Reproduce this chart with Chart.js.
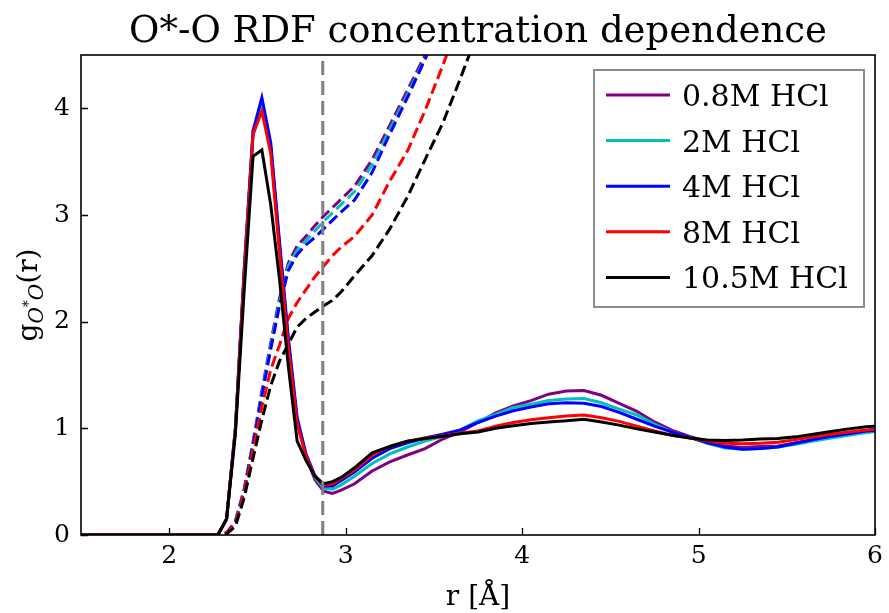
<!DOCTYPE html>
<html>
<head>
<meta charset="utf-8">
<script src="https://cdn.jsdelivr.net/npm/chart.js@4.4.1/dist/chart.umd.min.js"></script>
<style>
    html, body { margin: 0; padding: 0; background: #fff; }
    #wrap { width: 889px; height: 613px; }
</style>
</head>
<body>
<div id="wrap"><canvas id="grafRdf" width="889" height="613"></canvas></div>
<script>
// r em angstrom (grade comum a todas as curvas)
const rValues = [1.5,
    2.275, 2.325, 2.375, 2.425, 2.475, 2.525, 2.575, 2.625, 2.675, 2.725, 2.775, 2.825, 2.875, 2.925, 2.975,
    3.05, 3.15, 3.25, 3.35, 3.45, 3.55, 3.65, 3.75, 3.85, 3.95,
    4.05, 4.15, 4.25, 4.35, 4.45, 4.55, 4.65, 4.75, 4.85, 4.95,
    5.05, 5.15, 5.25, 5.35, 5.45, 5.55, 5.65, 5.75, 5.85, 5.95,
    6.0]

const rotulos = ['0.8M HCl', '2M HCl', '4M HCl', '8M HCl', '10.5M HCl']
const cores = ['#800080', '#00bfbf', '#0000ff', '#ff0000', '#000000']

// g(r) - linhas cheias
const g08 = [0,
    0, 0.15, 1.0, 2.45, 3.75, 4.02, 3.64, 2.7, 1.8, 1.06, 0.74, 0.52, 0.41, 0.39, 0.42,
    0.48, 0.60, 0.685, 0.75, 0.81, 0.90, 0.97, 1.055, 1.145, 1.21,
    1.26, 1.32, 1.35, 1.355, 1.31, 1.235, 1.16, 1.06, 0.98, 0.925,
    0.875, 0.835, 0.82, 0.83, 0.835, 0.865, 0.895, 0.925, 0.945, 0.965,
    0.97]
const g2 = [0,
    0, 0.15, 1.0, 2.48, 3.78, 4.05, 3.65, 2.72, 1.82, 1.07, 0.75, 0.54, 0.44, 0.43, 0.47,
    0.55, 0.67, 0.76, 0.825, 0.88, 0.925, 0.985, 1.07, 1.13, 1.195,
    1.225, 1.26, 1.275, 1.28, 1.24, 1.18, 1.125, 1.04, 0.965, 0.915,
    0.86, 0.815, 0.805, 0.81, 0.825, 0.85, 0.88, 0.91, 0.935, 0.96,
    0.975]
const g4 = [0,
    0, 0.15, 1.0, 2.5, 3.79, 4.1, 3.68, 2.75, 1.85, 1.1, 0.76, 0.56, 0.46, 0.46, 0.51,
    0.59, 0.72, 0.81, 0.865, 0.91, 0.945, 0.985, 1.055, 1.115, 1.165,
    1.20, 1.23, 1.24, 1.235, 1.205, 1.15, 1.085, 1.02, 0.965, 0.915,
    0.865, 0.825, 0.805, 0.81, 0.825, 0.86, 0.895, 0.925, 0.95, 0.975,
    0.98]
const g8 = [0,
    0, 0.15, 0.98, 2.45, 3.76, 3.97, 3.58, 2.65, 1.76, 1.04, 0.74, 0.55, 0.47, 0.48, 0.53,
    0.61, 0.75, 0.83, 0.88, 0.91, 0.93, 0.955, 0.975, 1.02, 1.055,
    1.08, 1.10, 1.115, 1.125, 1.10, 1.065, 1.02, 0.975, 0.935, 0.91,
    0.88, 0.86, 0.855, 0.86, 0.87, 0.895, 0.92, 0.945, 0.965, 0.985,
    0.995]
const g105 = [0,
    0, 0.15, 0.95, 2.3, 3.55, 3.61, 3.1, 2.4, 1.58, 0.88, 0.7, 0.55, 0.48, 0.5, 0.54,
    0.63, 0.77, 0.83, 0.88, 0.905, 0.925, 0.95, 0.965, 1.0, 1.025,
    1.045, 1.06, 1.07, 1.085, 1.06, 1.03, 0.995, 0.965, 0.935, 0.91,
    0.89, 0.885, 0.89, 0.90, 0.905, 0.92, 0.945, 0.97, 0.995, 1.015,
    1.02]

// curvas tracejadas (saem pelo topo do grafico)
const n08 = [0,
    0, 0.02, 0.13, 0.43, 0.87, 1.35, 1.8, 2.22, 2.55, 2.71, 2.8, 2.9, 2.99, 3.07, 3.15,
    3.27, 3.52, 3.84, 4.17, 4.5, 4.9]
const n2 = [0,
    0, 0.02, 0.13, 0.43, 0.86, 1.32, 1.77, 2.18, 2.52, 2.67, 2.76, 2.85, 2.94, 3.02, 3.1,
    3.22, 3.47, 3.8, 4.13, 4.47, 4.88]
const n4 = [0,
    0, 0.02, 0.12, 0.42, 0.85, 1.3, 1.74, 2.15, 2.48, 2.63, 2.72, 2.79, 2.87, 2.95, 3.03,
    3.14, 3.4, 3.76, 4.1, 4.46, 4.85]
const n8 = [0,
    0, 0.02, 0.11, 0.4, 0.8, 1.2, 1.55, 1.78, 2.03, 2.18, 2.3, 2.42, 2.52, 2.62, 2.7,
    2.8, 3.0, 3.32, 3.6, 3.98, 4.4, 4.85]
const n105 = [0,
    0, 0.01, 0.08, 0.35, 0.72, 1.08, 1.4, 1.63, 1.79, 1.95, 2.03, 2.09, 2.15, 2.2, 2.28,
    2.43, 2.62, 2.87, 3.17, 3.52, 3.86, 4.28, 4.72]

const rCorte = 2.87 // linha vertical cinza
const xTicks = [2, 3, 4, 5, 6]
const yTicks = [0, 1, 2, 3, 4]
const titulo = 'O*-O RDF concentration dependence'
const fonte = "'DejaVu Serif', serif"

const solidos = [g08, g2, g4, g8, g105]
const tracejados = [n08, n2, n4, n8, n105]

function pontos(arr) {
    return arr.map((y, i) => ({ x: rValues[i], y: y }))
}

let datasets = []
solidos.forEach((arr, i) => {
    datasets.push({
        label: rotulos[i],
        data: pontos(arr),
        borderColor: cores[i],
        borderWidth: 3,
        pointRadius: 0,
        tension: 0,
        order: 4 - i
    })
})
tracejados.forEach((arr, i) => {
    datasets.push({
        label: rotulos[i] + ' (int)',
        data: pontos(arr),
        borderColor: cores[i],
        borderWidth: 3,
        borderDash: [11, 5],
        pointRadius: 0,
        tension: 0,
        order: 9 - i
    })
})
datasets.push({
    label: 'corte',
    data: [{ x: rCorte, y: 0 }, { x: rCorte, y: 4.5 }],
    borderColor: '#808080',
    borderWidth: 3,
    borderDash: [14, 6],
    pointRadius: 0,
    order: -1
})

const decoracao = {
    id: 'decoracao',
    afterDraw(chart) {
        const ctx = chart.ctx
        const a = chart.chartArea
        const sx = chart.scales.x
        const sy = chart.scales.y
        ctx.save()

        // ticks para dentro
        ctx.strokeStyle = '#000'
        ctx.lineWidth = 1.3
        ctx.beginPath()
        xTicks.forEach(v => {
            const px = Math.round(sx.getPixelForValue(v)) + 0.5
            ctx.moveTo(px, a.bottom)
            ctx.lineTo(px, a.bottom - 7)
        })
        yTicks.forEach(v => {
            const py = Math.round(sy.getPixelForValue(v)) + 0.5
            ctx.moveTo(a.left, py)
            ctx.lineTo(a.left + 7, py)
        })
        ctx.stroke()

        // moldura
        ctx.lineWidth = 1.6
        ctx.strokeRect(a.left, a.top, a.right - a.left, a.bottom - a.top)

        // titulo e rotulo x
        ctx.fillStyle = '#000'
        ctx.textAlign = 'center'
        ctx.textBaseline = 'alphabetic'
        ctx.font = '37px ' + fonte
        ctx.fillText(titulo, (a.left + a.right) / 2, 42)
        ctx.font = '28px ' + fonte
        ctx.fillText('r [Å]', (a.left + a.right) / 2, 605)

        // rotulo y: g_{O*O}(r)
        ctx.save()
        ctx.translate(37, (a.top + a.bottom) / 2)
        ctx.rotate(-Math.PI / 2)
        ctx.textAlign = 'left'
        const fG = '28px ' + fonte
        const fSub = 'italic 20px ' + fonte
        const fSup = '14px ' + fonte
        ctx.font = fG
        const wg = ctx.measureText('g').width
        const wpar = ctx.measureText('(r)').width
        ctx.font = fSub
        const wo = ctx.measureText('O').width
        ctx.font = fSup
        const ws = ctx.measureText('*').width
        const total = wg + wo + ws + wo + wpar
        let x0 = -total / 2
        ctx.font = fG
        ctx.fillText('g', x0, 0)
        x0 += wg
        ctx.font = fSub
        ctx.fillText('O', x0, 6)
        x0 += wo
        ctx.font = fSup
        ctx.fillText('*', x0, -4)
        x0 += ws
        ctx.font = fSub
        ctx.fillText('O', x0, 6)
        x0 += wo
        ctx.font = fG
        ctx.fillText('(r)', x0, 0)
        ctx.restore()

        // legenda
        const lx = 594, ly = 70, lw = 270, lh = 237
        ctx.fillStyle = '#fff'
        ctx.fillRect(lx, ly, lw, lh)
        ctx.strokeStyle = '#8c8c8c'
        ctx.lineWidth = 2
        ctx.strokeRect(lx, ly, lw, lh)
        ctx.font = '30px ' + fonte
        ctx.textAlign = 'left'
        rotulos.forEach((txt, i) => {
            const yy = 95 + i * 45.6
            ctx.strokeStyle = cores[i]
            ctx.lineWidth = 3
            ctx.beginPath()
            ctx.moveTo(606, yy)
            ctx.lineTo(670, yy)
            ctx.stroke()
            ctx.fillStyle = '#000'
            ctx.fillText(txt, 682, yy + 11)
        })
        ctx.restore()
    }
}

const chartRdf = new Chart(document.getElementById('grafRdf'), {
    type: 'line',
    data: { datasets: datasets },
    options: {
        responsive: false,
        animation: false,
        devicePixelRatio: 1,
        layout: { padding: { top: 55, right: 4, left: 0, bottom: 0 } },
        plugins: {
            legend: { display: false },
            tooltip: { enabled: false },
            title: { display: false }
        },
        scales: {
            x: {
                type: 'linear',
                min: 1.5,
                max: 6,
                afterFit: s => { s.height = 78 },
                afterBuildTicks: s => { s.ticks = s.ticks.filter(t => xTicks.includes(t.value)) },
                ticks: { stepSize: 1, padding: 6, autoSkip: false, maxRotation: 0, color: '#000', font: { family: fonte, size: 25 } },
                grid: { display: false, drawTicks: false },
                border: { display: false }
            },
            y: {
                type: 'linear',
                min: 0,
                max: 4.5,
                afterFit: s => { s.width = 81 },
                afterBuildTicks: s => { s.ticks = s.ticks.filter(t => yTicks.includes(t.value)) },
                ticks: { stepSize: 1, padding: 11, autoSkip: false, color: '#000', font: { family: fonte, size: 25 } },
                grid: { display: false, drawTicks: false },
                border: { display: false }
            }
        }
    },
    plugins: [decoracao]
})
</script>
</body>
</html>
